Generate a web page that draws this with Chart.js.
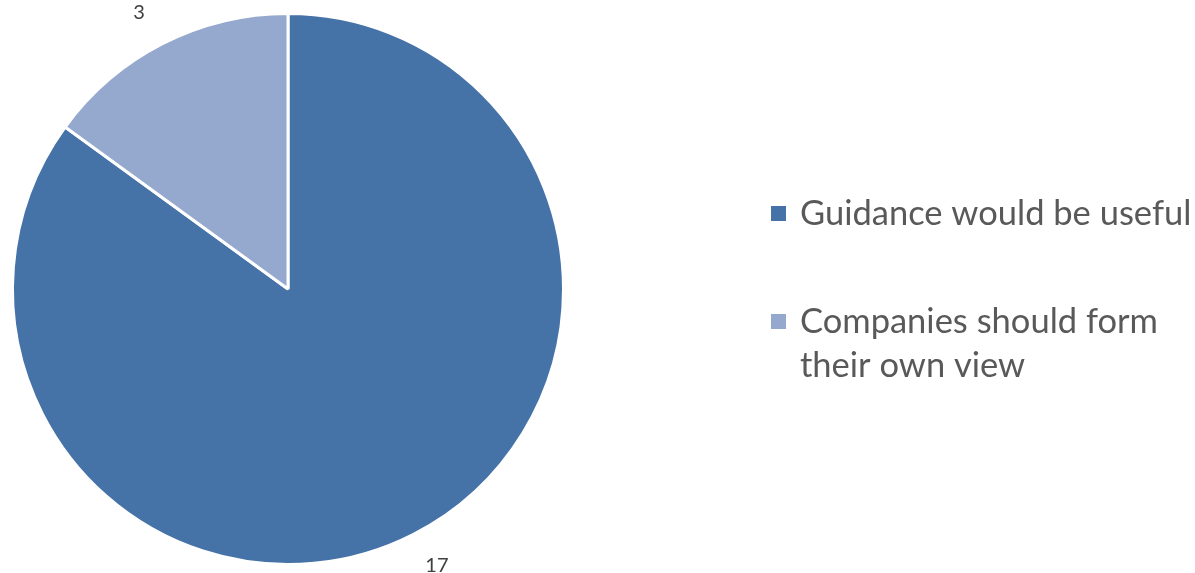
<!DOCTYPE html>
<html>
<head>
<meta charset="utf-8">
<script src="https://cdn.jsdelivr.net/npm/chart.js@4.4.1/dist/chart.umd.min.js"></script>
<style>
  html, body { margin: 0; padding: 0; background: #fff; }
  #wrap { width: 1195px; height: 573px; }
</style>
</head>
<body>
<div id="wrap"><canvas id="chartPie"></canvas></div>
<script>
// data
const categories = ['Guidance would be useful', ['Companies should form', 'their own view']];
const responses = [17, 3];
const sliceColors = ['#4572A7', '#95A9CF'];

const canvas = document.getElementById('chartPie');
const ctx = canvas.getContext('2d');

// labels of values, outside the pie
const valueLabels = {
    id: 'valueLabels',
    afterDatasetsDraw(chart) {
        const c = chart.ctx;
        const meta = chart.getDatasetMeta(0);
        c.save();
        c.font = '20px Lato';
        c.fillStyle = '#404040';
        c.textAlign = 'center';
        c.textBaseline = 'middle';
        meta.data.forEach((arc, i) => {
            const mid = (arc.startAngle + arc.endAngle) / 2;
            const r = arc.outerRadius + 35;
            const dx = Math.cos(mid) < 0 ? -8 : 8;
            c.fillText(String(responses[i]), arc.x + Math.cos(mid) * r + dx, arc.y + Math.sin(mid) * r);
        });
        c.restore();
    }
};

// legend on the right, Excel style
const sideLegend = {
    id: 'sideLegend',
    afterDraw(chart) {
        const c = chart.ctx;
        const x = 771;
        let y = 225;
        c.save();
        c.font = '34.5px Lato';
        c.textBaseline = 'alphabetic';
        categories.forEach((cat, i) => {
            const lines = Array.isArray(cat) ? cat : [cat];
            c.fillStyle = sliceColors[i];
            c.fillRect(x, y - 19, 15, 15);
            c.fillStyle = '#595959';
            lines.forEach((ln, j) => {
                c.fillText(ln, x + 29, y + j * 44);
            });
            y += 108;
        });
        c.restore();
    }
};

const chartPie = new Chart(ctx, {
    type: 'pie',
    data: {
        labels: categories,
        datasets: [{
            data: responses,
            backgroundColor: sliceColors,
            borderColor: '#ffffff',
            borderWidth: 3
        }]
    },
    options: {
        responsive: true,
        maintainAspectRatio: false,
        animation: false,
        layout: { padding: { left: 11, right: 630, top: 12, bottom: 7 } },
        plugins: {
            legend: { display: false },
            tooltip: { enabled: false }
        }
    },
    plugins: [valueLabels, sideLegend]
});
</script>
</body>
</html>
